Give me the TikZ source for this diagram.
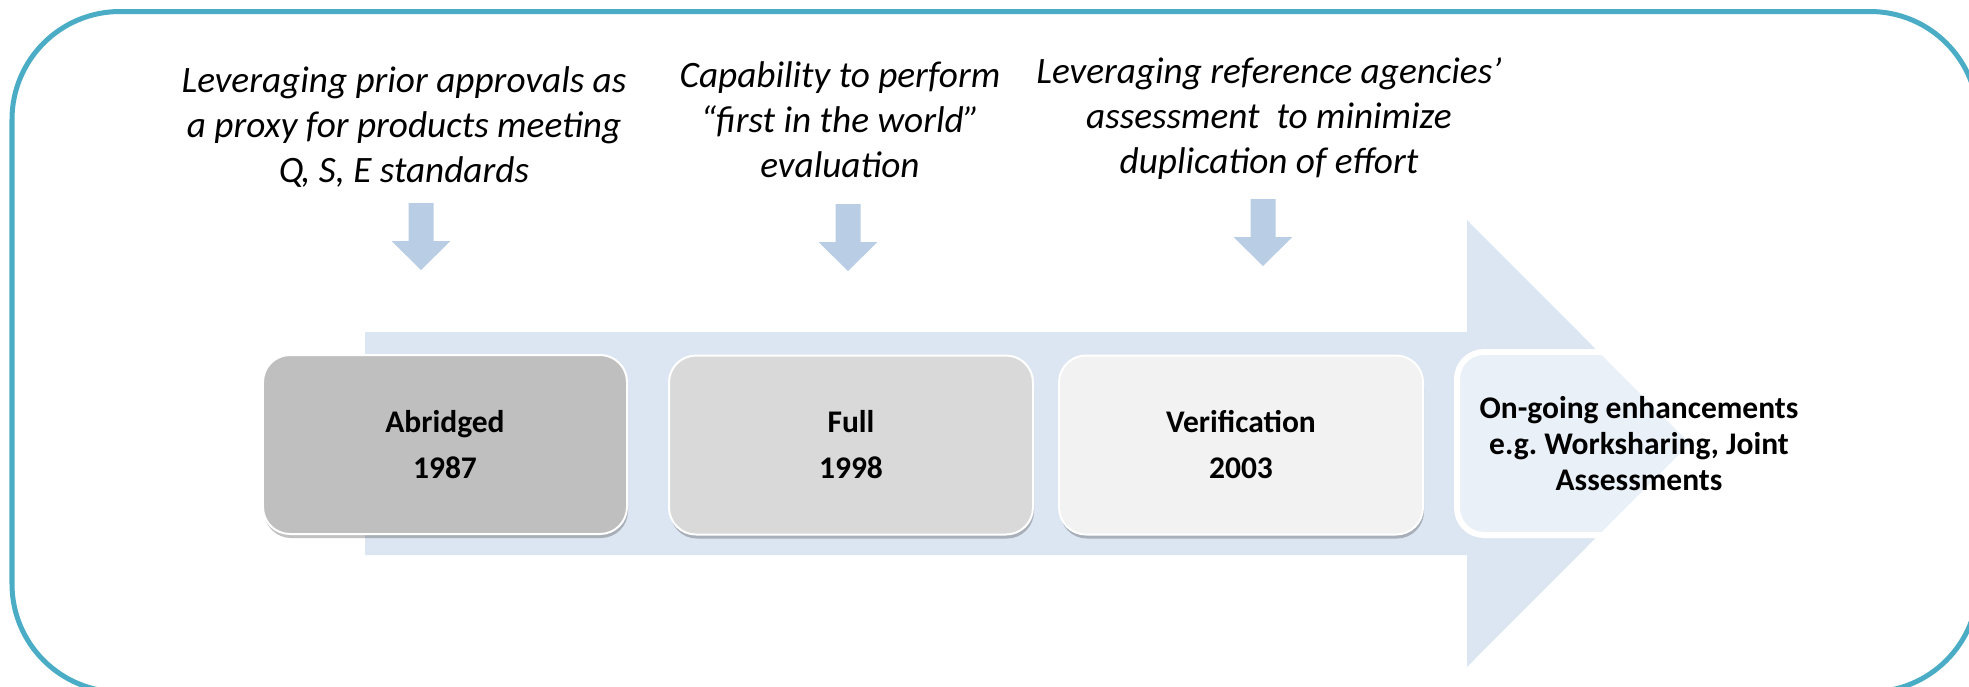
\documentclass[tikz,border=0pt]{standalone}
\usepackage{fontspec}
\setmainfont{Carlito}
\usetikzlibrary{shadows}
\definecolor{frameteal}{HTML}{4BACC6}
\definecolor{bandblue}{HTML}{DCE6F2}
\definecolor{arrowblue}{HTML}{B9CDE5}
\definecolor{boxA}{HTML}{BFBFBF}
\definecolor{boxB}{HTML}{D9D9D9}
\definecolor{boxC}{HTML}{F2F2F2}
\tikzset{
  downarr/.pic={\fill[arrowblue] (-12.5,0) -- (12.5,0) -- (12.5,38) -- (29.5,38) -- (0,67) -- (-29.5,38) -- (-12.5,38) -- cycle;},
  stagebox/.style={draw=white, line width=0.8pt, rounded corners=10.8pt,
    minimum width=145.6pt, minimum height=71.6pt, align=center, inner sep=0pt,
    font=\fontsize{12.6}{18.4}\selectfont\bfseries,
    drop shadow={shadow xshift=0.4pt, shadow yshift=-1.6pt, opacity=0.3, fill=black!80}},
  lastbox/.style={draw=white, line width=2.4pt, rounded corners=10.8pt,
    fill=white, fill opacity=0.4, text opacity=1,
    minimum width=145.6pt, minimum height=73.2pt, align=center, inner sep=0pt,
    font=\fontsize{12.6}{14.4}\selectfont\bfseries},
  note/.style={align=center, inner sep=0pt, font=\fontsize{14.9}{18}\selectfont\itshape}
}
\frenchspacing
\begin{document}
\begin{tikzpicture}[x=0.4pt,y=-0.4pt]
\useasboundingbox (0,0) rectangle (1969,687);
% outer frame
\draw[frameteal, line width=2pt, rounded corners=43.2pt] (12,11.5) rectangle (1978,692);
% big process arrow
\fill[bandblue] (365,332) -- (1467,332) -- (1467,220) -- (1690,443.5) -- (1467,667) -- (1467,555) -- (365,555) -- cycle;
% stage boxes
\node[stagebox, fill=boxA] (abr) at (445,444.5) {Abridged\\1987};
\node[stagebox, fill=boxB] (full) at (851,445) {Full\\1998};
\node[stagebox, fill=boxC] (ver) at (1241,445) {Verification\\2003};
\node[lastbox] (ong) at (1639,443.5) {On-going enhancements\\e.g. Worksharing, Joint\\Assessments};
% notes
\node[note] (t1) at (404,127) {Leveraging prior approvals as\\a proxy for products meeting\\Q\kern-0.07em, S, E standards};
\node[note] (t2) at (840,120) {Capability to perform\\“first in the world”\\evaluation};
\node[note] (t3) at (1269,119) {Leveraging reference agencies’\\assessment\ \ to minimize\\duplication of effort};
% down arrows
\pic at (421,203) {downarr};
\pic at (848,204) {downarr};
\pic at (1263,199) {downarr};
\end{tikzpicture}
\end{document}
